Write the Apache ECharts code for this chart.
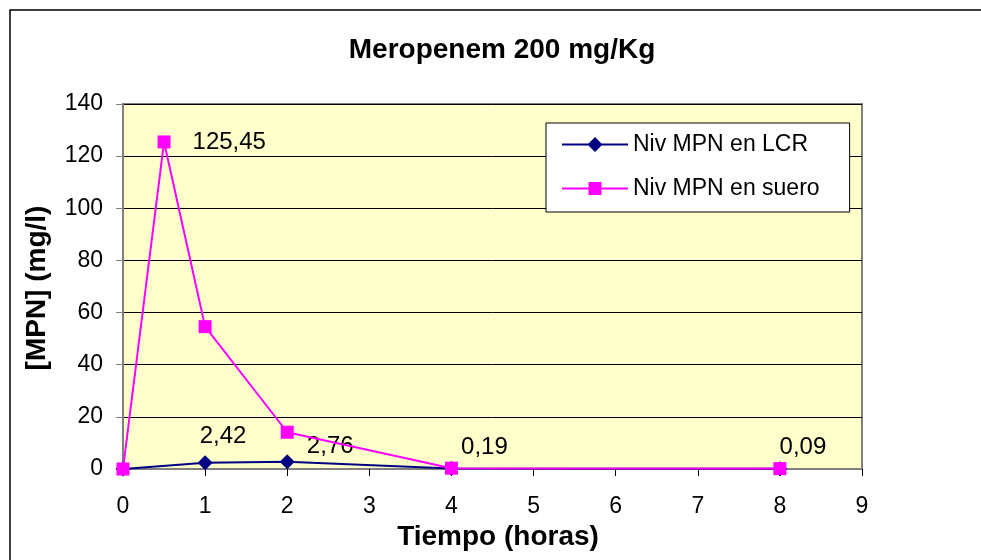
<!DOCTYPE html>
<html>
<head>
<meta charset="utf-8">
<script src="https://cdn.jsdelivr.net/npm/echarts@6/dist/echarts.min.js"></script>
<style>html,body{margin:0;padding:0;background:#fff}#c{width:981px;height:560px}</style>
</head>
<body>
<div id="c"></div>
<script>
var titleText = 'Meropenem 200 mg/Kg';
var xName = 'Tiempo (horas)';
var yName = '[MPN] (mg/l)';
var seriesNames = ['Niv MPN en LCR', 'Niv MPN en suero'];
var lcrHours = [0, 1, 2, 4, 8];
var lcrValues = [0, 2.42, 2.76, 0.19, 0.09];
var sueroHours = [0, 0.5, 1, 2, 4, 8];
var sueroValues = [0, 125.45, 54.6, 14.1, 0.3, 0.15];
var xTicks = [0, 1, 2, 3, 4, 5, 6, 7, 8, 9];
var yTicks = [0, 20, 40, 60, 80, 100, 120, 140];

var FONT = 'Liberation Sans, Arial, sans-serif';
function fmt(v){ return v.toFixed(2).replace('.', ','); }

var lcrLabelOffsets = [null, [18, -2], [43, 9], [33, 3], [23, 3]];
var lcrData = lcrHours.map(function(h, i){
  var d = {value: [h, lcrValues[i]]};
  if (lcrLabelOffsets[i]) {
    d.label = {show: true, position: 'top', offset: lcrLabelOffsets[i], formatter: fmt(lcrValues[i])};
  }
  return d;
});
var sueroData = sueroHours.map(function(h, i){
  var d = {value: [h, sueroValues[i]]};
  if (i === 1) {
    d.label = {show: true, position: 'right', distance: 22, formatter: fmt(sueroValues[i])};
  }
  return d;
});

var chart = echarts.init(document.getElementById('c'));
chart.setOption({
  animation: false,
  textStyle: {fontFamily: FONT},
  grid: {left: 123, right: 119, top: 104, bottom: 91, show: true, backgroundColor: '#FFFFCC', borderColor: '#808080', borderWidth: 2},
  xAxis: {
    type: 'value', min: xTicks[0], max: xTicks[xTicks.length-1], interval: 1,
    axisLine: {show: true, lineStyle: {color: '#808080', width: 2}},
    axisTick: {show: true, length: 7, lineStyle: {color: '#000'}},
    axisLabel: {color: '#000', fontSize: 23, fontFamily: FONT, margin: 26},
    splitLine: {show: false}
  },
  yAxis: {
    type: 'value', min: yTicks[0], max: yTicks[yTicks.length-1], interval: 20,
    axisLine: {show: true, lineStyle: {color: '#808080', width: 2}},
    axisTick: {show: true, length: 7, lineStyle: {color: '#808080'}},
    axisLabel: {color: '#000', fontSize: 23, fontFamily: FONT, margin: 20},
    splitLine: {show: true, lineStyle: {color: '#000', width: 1}}
  },
  legend: {
    orient: 'vertical', left: 546, top: 123,
    backgroundColor: '#fff', borderColor: '#000', borderWidth: 1,
    padding: [10, 30, 12, 16], itemGap: 21,
    itemWidth: 66, itemHeight: 15,
    textStyle: {fontSize: 23, color: '#000', fontFamily: FONT},
    data: [
      {name: seriesNames[0], icon: 'path://M0,6.5 L66,6.5 L66,8.5 L0,8.5 Z M33,0 L40.5,7.5 L33,15 L25.5,7.5 Z'},
      {name: seriesNames[1], icon: 'path://M0,6.5 L66,6.5 L66,8.5 L0,8.5 Z M26.5,1 L39.5,1 L39.5,14 L26.5,14 Z'}
    ]
  },
  graphic: [
    {type: 'rect', shape: {x: 10, y: 10, width: 1000, height: 600}, style: {fill: 'none', stroke: '#000', lineWidth: 1.5}, silent: true},
    {type: 'text', x: 502, y: 50, style: {text: titleText, font: 'bold 28px ' + FONT, fill: '#000', textAlign: 'center', textVerticalAlign: 'middle'}},
    {type: 'text', x: 498, y: 537, style: {text: xName, font: 'bold 28px ' + FONT, fill: '#000', textAlign: 'center', textVerticalAlign: 'middle'}},
    {type: 'text', x: 37, y: 288, rotation: Math.PI/2, style: {text: yName, font: 'bold 28px ' + FONT, fill: '#000', textAlign: 'center', textVerticalAlign: 'middle'}}
  ],
  series: [
    {
      name: seriesNames[0], type: 'line', data: lcrData,
      symbol: 'diamond', symbolSize: 15,
      lineStyle: {color: '#000080', width: 2}, itemStyle: {color: '#000080'},
      label: {color: '#000', fontSize: 24, fontFamily: FONT},
      z: 3
    },
    {
      name: seriesNames[1], type: 'line', data: sueroData,
      symbol: 'rect', symbolSize: 13,
      lineStyle: {color: '#FF00FF', width: 2}, itemStyle: {color: '#FF00FF'},
      label: {color: '#000', fontSize: 24, fontFamily: FONT},
      z: 4
    }
  ]
});
</script>
</body>
</html>
